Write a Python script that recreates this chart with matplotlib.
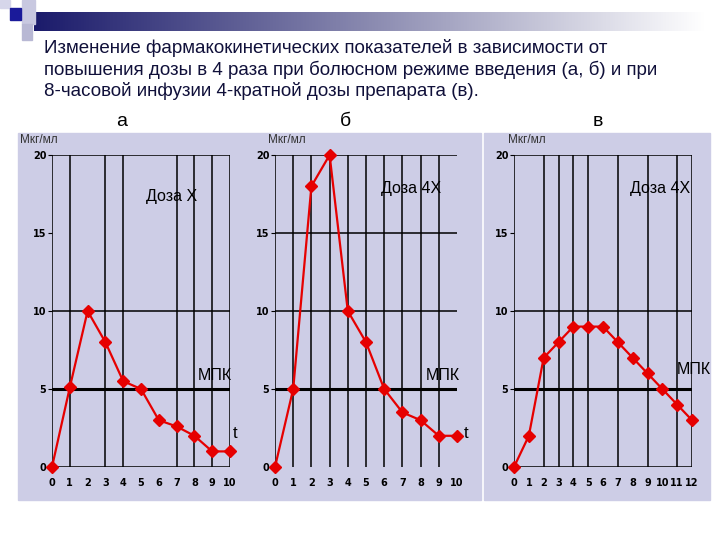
import matplotlib
matplotlib.use("Agg")
import matplotlib.pyplot as plt
from matplotlib.patches import Rectangle
import numpy as np

plt.rcParams['font.family'] = ['Liberation Sans', 'DejaVu Sans']

title = ("Изменение фармакокинетических показателей в зависимости от\n"
         "повышения дозы в 4 раза при болюсном режиме введения (а, б) и при\n"
         "8-часовой инфузии 4-кратной дозы препарата (в).")

# концентрация, мкг/мл
time_a = list(range(0, 11))
conc_a = [0, 5.1, 10, 8, 5.5, 5, 3, 2.6, 2, 1, 1]
time_b = list(range(0, 11))
conc_b = [0, 5, 18, 20, 10, 8, 5, 3.5, 3, 2, 2]
time_c = list(range(0, 13))
conc_c = [0, 2, 7, 8, 9, 9, 9, 8, 7, 6, 5, 4, 3]
mpk = 5

panel_letters = ['а', 'б', 'в']
dose_labels = ['Доза X', 'Доза 4X', 'Доза 4X']

W, H = 720, 540
fig = plt.figure(figsize=(7.2, 5.4), dpi=100)
fig.patch.set_facecolor('white')


def px(x, y):
    return x / W, 1 - y / H


# фон слайда
bg = fig.add_axes([0, 0, 1, 1])
bg.set_xlim(0, W)
bg.set_ylim(H, 0)
bg.axis('off')
grad = np.linspace(0, 1, 256)[None, :]
cmap = matplotlib.colors.LinearSegmentedColormap.from_list('g', ['#1b1b6b', '#8a8ab0', '#ffffff'])
bg.imshow(grad, extent=(34, 705, 31, 12), aspect='auto', cmap=cmap, zorder=1)
bg.add_patch(Rectangle((22, 0), 13, 24, color='#c8c8e0', zorder=2))
bg.add_patch(Rectangle((22, 24), 10, 16, color='#b8b8d4', zorder=2))
bg.add_patch(Rectangle((0, 0), 10, 8, color='#d6d6ea', zorder=2))
bg.add_patch(Rectangle((10, 8), 11, 12, color='#1a1a9a', zorder=3))
bg.add_patch(Rectangle((18, 133), 463, 367, color='#cdcde6', zorder=1))
bg.add_patch(Rectangle((484, 133), 226, 367, color='#cdcde6', zorder=1))

fig.text(*px(44, 39), title, fontsize=13.5, color='#10103a', va='top', ha='left',
         linespacing=1.25)
for letter, xl in zip(panel_letters, [122, 345, 598]):
    fig.text(*px(xl, 121), letter, fontsize=14, ha='center', va='center')

boxes = [(52, 230), (275, 457), (514, 692)]
vgrids = [[0, 1, 3, 4, 7, 8, 9, 10], list(range(0, 10)), [0, 2, 3, 4, 5, 7, 9, 11, 12]]
hgrids = [[0, 10, 20], [10, 15, 20], [0, 10, 20]]
series = [(time_a, conc_a), (time_b, conc_b), (time_c, conc_c)]
ylab_x = [20, 268, 508]
dose_pos = [(172, 196), (411, 189), (660, 189)]
mpk_pos = [(215, 375), (443, 375), (694, 370)]

for i, ((x0, x1), (t, c)) in enumerate(zip(boxes, series)):
    left, bottom = px(x0, 467)
    ax = fig.add_axes([left, bottom, (x1 - x0) / W, 312 / H])
    ax.patch.set_alpha(0)
    xmax = t[-1]
    ax.set_xlim(0, xmax)
    ax.set_ylim(0, 20)
    for s in ax.spines.values():
        s.set_visible(False)
    for v in vgrids[i]:
        ax.axvline(v, color='black', lw=1.1, zorder=1)
    for h in hgrids[i]:
        ax.axhline(h, color='black', lw=1.1, zorder=1)
    ax.plot([0, xmax], [mpk, mpk], color='black', lw=2.2, zorder=2)
    ax.plot(t, c, color='#e60000', lw=1.6, marker='D', markersize=6,
            markeredgecolor='#e60000', clip_on=False, zorder=3)
    ax.set_xticks(t)
    ax.set_yticks([0, 5, 10, 15, 20])
    ax.tick_params(axis='x', length=0, pad=8, labelsize=7)
    ax.tick_params(axis='y', length=3, width=0.8, pad=1, labelsize=7)
    for lab in ax.get_xticklabels() + ax.get_yticklabels():
        lab.set_fontweight('bold')
        lab.set_family('DejaVu Sans')
    fig.text(*px(ylab_x[i], 140), 'Мкг/мл', fontsize=8.5, color='#333333',
             ha='left', va='center')
    fig.text(*px(*dose_pos[i]), dose_labels[i], fontsize=11.5, ha='center', va='center')
    fig.text(*px(*mpk_pos[i]), 'МПК', fontsize=11.5, ha='center', va='center')
    if i < 2:
        fig.text(*px([235, 466][i], 433), 't', fontsize=12, ha='center', va='center')

fig.savefig('out.png', dpi=100)
